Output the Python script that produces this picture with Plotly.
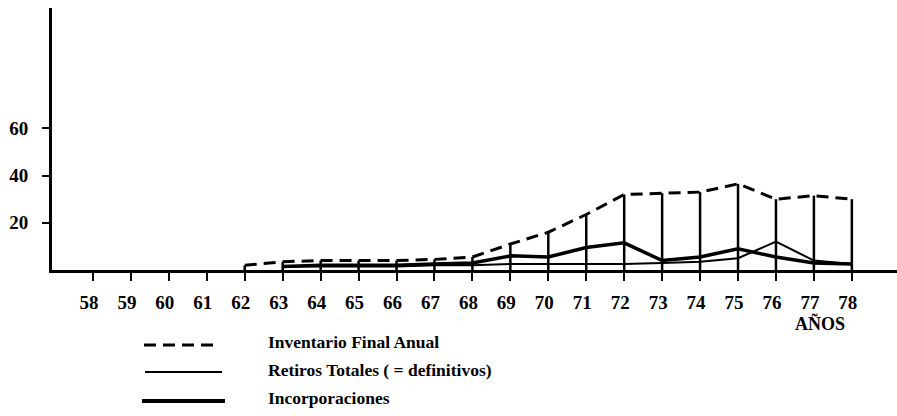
import plotly.graph_objects as go

# Años del eje horizontal (19xx)
years = list(range(58, 79))
tick_text = [str(y) for y in years]

# Inventario final anual
inv_years = list(range(62, 79))
inventario = [2, 3.5, 4, 4, 4, 4.5, 5.5, 11, 16, 23.5, 32, 32.5, 33, 36.5, 30, 31.5, 30]

# Retiros totales e incorporaciones
flow_years = list(range(63, 79))
retiros = [1.5, 1.5, 1.5, 1.5, 2, 2, 2.5, 2.5, 2.5, 2.5, 3, 3.5, 5, 12, 4, 2.5]
incorporaciones = [1.5, 2, 2, 2, 2.5, 3, 6, 5.5, 9.5, 11.5, 4, 5.5, 9, 5.5, 3, 2.5]

y_ticks = [20, 40, 60]
legend_labels = ["Inventario Final Anual", "Retiros Totales ( = definitivos)", "Incorporaciones"]
axis_title = "AÑOS"

W, H = 897, 416
L, R, T, B = 52, 0, 8, 146
PW, PH = W - L - R, H - T - B

SERIF = "Liberation Serif, Times New Roman, serif"


def px(x):
    return (x - L) / PW


def py(y):
    return (H - B - y) / PH


fig = go.Figure()

# Inventario (discontinua) con líneas verticales hasta el eje
fig.add_trace(go.Scatter(
    x=inv_years, y=inventario, mode="lines",
    line=dict(color="black", width=3, dash="12px,7px"),
    error_y=dict(type="data", symmetric=False, array=[0] * len(inventario),
                 arrayminus=inventario, width=0, thickness=2.5, color="black"),
    showlegend=False, hoverinfo="skip",
))
fig.add_trace(go.Scatter(
    x=flow_years, y=retiros, mode="lines",
    line=dict(color="black", width=2),
    showlegend=False, hoverinfo="skip",
))
fig.add_trace(go.Scatter(
    x=flow_years, y=incorporaciones, mode="lines",
    line=dict(color="black", width=3.5),
    showlegend=False, hoverinfo="skip",
))

# Leyenda dibujada bajo el gráfico
legend_rows = [
    dict(x0=144, x1=219, y=345, width=3, dash="12px,7px"),
    dict(x0=145, x1=222, y=372, width=2, dash="solid"),
    dict(x0=142, x1=225, y=401, width=4, dash="solid"),
]
text_y = [342, 370, 398]
shapes = []
annotations = []
for row, label, ty in zip(legend_rows, legend_labels, text_y):
    shapes.append(dict(
        type="line", xref="paper", yref="paper",
        x0=px(row["x0"]), x1=px(row["x1"]), y0=py(row["y"]), y1=py(row["y"]),
        line=dict(color="black", width=row["width"], dash=row["dash"]),
    ))
    annotations.append(dict(
        text=label, xref="paper", yref="paper", x=px(266), y=py(ty),
        xanchor="left", yanchor="middle", showarrow=False,
        font=dict(family=SERIF, size=17.5, color="black", weight="bold"),
    ))

annotations.append(dict(
    text=axis_title, xref="paper", yref="paper", x=px(820), y=py(323),
    xanchor="center", yanchor="middle", showarrow=False,
    font=dict(family=SERIF, size=18, color="black", weight="bold"),
))

fig.update_layout(
    width=W, height=H,
    margin=dict(l=L, r=R, t=T, b=B, pad=0),
    paper_bgcolor="white", plot_bgcolor="white",
    shapes=shapes, annotations=annotations,
    showlegend=False,
    xaxis=dict(
        range=[56.92, 79.19], tickmode="array", tickvals=years, ticktext=tick_text,
        showgrid=False, zeroline=False, showline=True, linecolor="black", linewidth=3,
        ticks="outside", ticklen=8, tickwidth=2, tickcolor="black",
        ticklabelstandoff=5, ticklabelshift=-4,
        tickfont=dict(family=SERIF, size=19, color="black", weight="bold"),
    ),
    yaxis=dict(
        range=[0, 111], tickmode="array", tickvals=y_ticks,
        showgrid=False, zeroline=False, showline=True, linecolor="black", linewidth=3,
        ticks="outside", ticklen=7, tickwidth=2, tickcolor="black",
        ticklabelstandoff=10,
        tickfont=dict(family=SERIF, size=19, color="black", weight="bold"),
    ),
)

fig.write_html("out.html")
